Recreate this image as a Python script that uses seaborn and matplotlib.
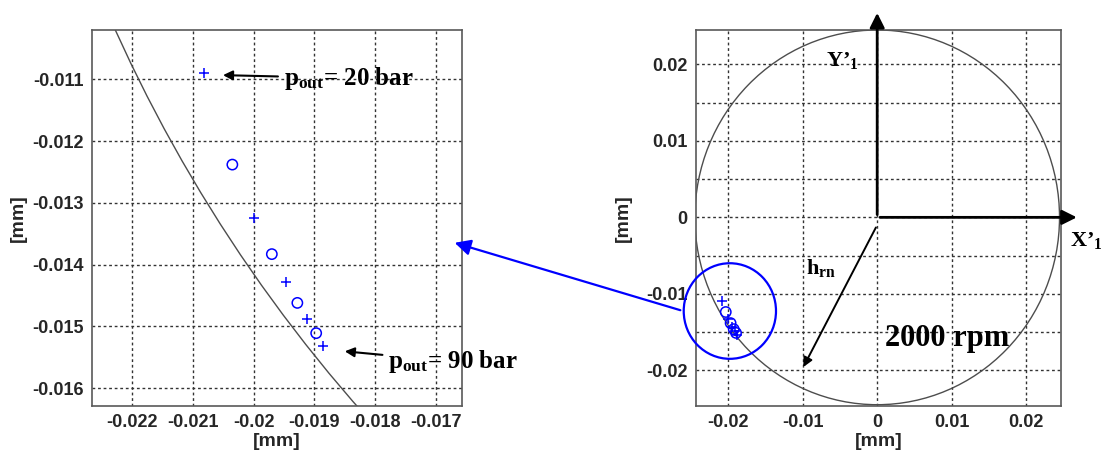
import numpy as np
import matplotlib
matplotlib.use("Agg")
import matplotlib.pyplot as plt
from matplotlib.patches import Circle, Ellipse
import seaborn as sns

# journal positions at 2000 rpm, p_out from 20 bar to 90 bar
plus_x = [-0.02081, -0.02000, -0.01947, -0.01912, -0.01885]
plus_y = [-0.01090, -0.01325, -0.01428, -0.01488, -0.01532]
circ_x = [-0.02035, -0.01970, -0.01928, -0.01897]
circ_y = [-0.01238, -0.01383, -0.01462, -0.01511]
clearance = 0.0245

left_xticks = [-0.022, -0.021, -0.020, -0.019, -0.018, -0.017]
left_yticks = [-0.011, -0.012, -0.013, -0.014, -0.015, -0.016]
right_xticks = [-0.02, -0.01, 0, 0.01, 0.02]
right_yticks = [-0.02, -0.015, -0.01, -0.005, 0, 0.005, 0.01, 0.015, 0.02]

sns.set_theme(style="white")
plt.rcParams['font.family'] = ['Liberation Sans', 'DejaVu Sans']
plt.rcParams['mathtext.fontset'] = 'custom'
plt.rcParams['mathtext.rm'] = 'Liberation Serif:bold'
plt.rcParams['mathtext.it'] = 'Liberation Serif:bold'
plt.rcParams['mathtext.bf'] = 'Liberation Serif:bold'

fig = plt.figure(figsize=(11.1, 4.55), dpi=100)
ax1 = fig.add_axes([92 / 1110, 1 - 406 / 455, 370 / 1110, 376 / 455])
ax2 = fig.add_axes([696 / 1110, 1 - 406 / 455, 365 / 1110, 376 / 455])

serif = dict(family='Liberation Serif', fontweight='bold', color='black')


def style_axes(ax):
    ax.grid(True, linestyle=(0, (2, 2)), color='0.2', linewidth=1)
    for s in ax.spines.values():
        s.set_color('0.35')
        s.set_linewidth(1.2)
    ax.tick_params(direction='in', length=3, color='0.35', labelsize=13,
                   pad=6)
    for lab in ax.get_xticklabels() + ax.get_yticklabels():
        lab.set_fontweight('bold')


def draw_points(ax):
    sns.scatterplot(x=plus_x, y=plus_y, ax=ax, marker='+', color='blue',
                    s=60, linewidth=1.1, zorder=4)
    sns.scatterplot(x=circ_x, y=circ_y, ax=ax, marker='o', facecolor='none',
                    edgecolor='blue', s=55, linewidth=1.1, zorder=4)


# ---- left: zoom on the loci ----
ax1.add_patch(Circle((0, 0), clearance, fill=False, color='0.3', lw=1))
draw_points(ax1)
ax1.set_xlim(-0.02266, -0.01657)
ax1.set_ylim(-0.01629, -0.0102)
ax1.set_xticks(left_xticks)
ax1.set_yticks(left_yticks)
ax1.set_xticklabels(['%g' % t for t in left_xticks])
ax1.set_yticklabels(['%g' % t for t in left_yticks])
ax1.set_xlabel('[mm]', fontsize=14, fontweight='bold', labelpad=1)
ax1.set_ylabel('[mm]', fontsize=14, fontweight='bold', labelpad=4)
style_axes(ax1)

arrow_k = dict(arrowstyle='-|>', color='black', lw=1.5, mutation_scale=14)
ax1.annotate(r'p$_{\rm out}$= 20 bar', xy=(-0.02055, -0.01093),
             xytext=(-0.0195, -0.01098), va='center', fontsize=18,
             arrowprops=arrow_k, annotation_clip=False, **serif)
ax1.annotate(r'p$_{\rm out}$= 90 bar', xy=(-0.018545, -0.0154),
             xytext=(-0.01778, -0.01557), va='center', fontsize=18,
             arrowprops=arrow_k, annotation_clip=False, **serif)

# ---- right: full clearance circle ----
ax2.add_patch(Circle((0, 0), clearance, fill=False, color='0.3', lw=1))
draw_points(ax2)
ax2.set_xlim(-0.02435, 0.0247)
ax2.set_ylim(-0.02467, 0.0245)
ax2.set_xticks(right_xticks)
ax2.set_yticks(right_yticks)
ax2.set_xticklabels(['%g' % t for t in right_xticks])
ax2.set_yticklabels(['%g' % t if abs(round(t / 0.01) * 0.01 - t) < 1e-9 else ''
                     for t in right_yticks])
ax2.set_xlabel('[mm]', fontsize=14, fontweight='bold', labelpad=1)
ax2.set_ylabel('[mm]', fontsize=14, fontweight='bold', labelpad=10)
style_axes(ax2)

ax2.add_patch(Ellipse((-0.0198, -0.01225), 0.0124, 0.0125, fill=False,
                      color='blue', lw=1.6, clip_on=False, zorder=5))

big = dict(arrowstyle='-|>', color='black', lw=2, mutation_scale=22)
ax2.annotate('', xy=(0, 0.0271), xytext=(0, 0), arrowprops=big,
             annotation_clip=False)
ax2.annotate('', xy=(0.0272, 0), xytext=(0, 0), arrowprops=big,
             annotation_clip=False)
ax2.annotate('', xy=(-0.0101, -0.0199), xytext=(0, -0.001),
             arrowprops=dict(arrowstyle='-|>', color='black', lw=1.4,
                             mutation_scale=14))
ax2.text(-0.0047, 0.0205, r'Y’$_1$', fontsize=16, ha='center', va='center',
         **serif)
ax2.text(0.0281, -0.003, r'X’$_1$', fontsize=16, ha='center', va='center',
         clip_on=False, **serif)
ax2.text(-0.0076, -0.0066, r'h$_{\rm rn}$', fontsize=16, ha='center',
         va='center', **serif)
ax2.text(0.0094, -0.0159, '2000 rpm', fontsize=22, ha='center', va='center',
         **serif)

# blue link from the highlight to the zoomed panel
fig.patches.append(matplotlib.patches.FancyArrowPatch(
    (683 / 1110, 1 - 311 / 455), (452 / 1110, 1 - 242 / 455),
    transform=fig.transFigure, arrowstyle='-|>', color='blue', lw=1.6,
    mutation_scale=24))

fig.savefig('out.png', dpi=100)
